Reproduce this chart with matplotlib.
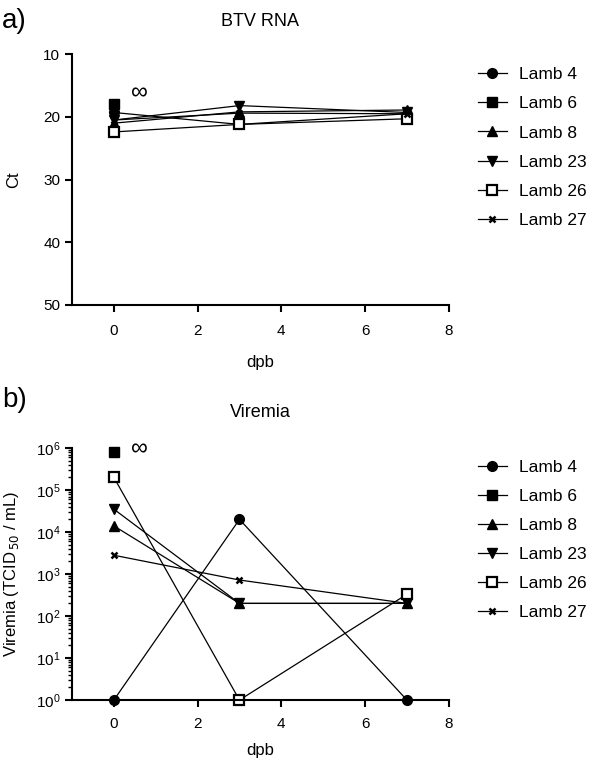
import matplotlib
matplotlib.use("Agg")
import matplotlib.pyplot as plt
import numpy as np

plt.rcParams['font.family'] = ['Liberation Sans', 'DejaVu Sans']

days = [0, 3, 7]
lambs = ["Lamb 4", "Lamb 6", "Lamb 8", "Lamb 23", "Lamb 26", "Lamb 27"]

# Panel a: BTV RNA Ct values
ct_lamb4 = [19.3, 21.2, 19.5]
ct_lamb6 = [18.0]
ct_lamb8 = [21.0, 19.2, 18.9]
ct_lamb23 = [20.5, 18.2, 19.3]
ct_lamb26 = [22.4, 21.2, 20.3]
ct_lamb27 = [20.5, 19.4, 19.5]

# Panel b: Viremia (TCID50/mL)
vir_lamb4 = [1, 2e4, 1]
vir_lamb6 = [8e5]
vir_lamb8 = [1.4e4, 200, 200]
vir_lamb23 = [3.5e4, 200, 200]
vir_lamb26 = [2e5, 1, 330]
vir_lamb27 = [2.8e3, 720, 200]

styles = {
    "Lamb 4": dict(marker='o', ms=7, mfc='black', mec='black'),
    "Lamb 6": dict(marker='s', ms=6.5, mfc='black', mec='black'),
    "Lamb 8": dict(marker='^', ms=7, mfc='black', mec='black'),
    "Lamb 23": dict(marker='v', ms=7, mfc='black', mec='black'),
    "Lamb 26": dict(marker='s', ms=6.5, mfc='white', mec='black', mew=1.6),
    "Lamb 27": dict(marker='x', ms=4.5, mfc='black', mec='black', mew=1.8),
}

ct_data = dict(zip(lambs, [ct_lamb4, ct_lamb6, ct_lamb8, ct_lamb23, ct_lamb26, ct_lamb27]))
vir_data = dict(zip(lambs, [vir_lamb4, vir_lamb6, vir_lamb8, vir_lamb23, vir_lamb26, vir_lamb27]))

fig = plt.figure(figsize=(6, 7.6), dpi=100)
ax1 = fig.add_axes([0.12, 0.5987, 0.628, 0.330])
ax2 = fig.add_axes([0.12, 0.0789, 0.628, 0.3316])

for ax, data in ((ax1, ct_data), (ax2, vir_data)):
    for name in lambs:
        vals = data[name]
        ax.plot(days[:len(vals)], vals, color='black', lw=0.9, clip_on=False,
                label=name, **styles[name])
    for s in ('top', 'right'):
        ax.spines[s].set_visible(False)
    ax.spines['left'].set_linewidth(1.5)
    ax.spines['bottom'].set_linewidth(1.5)
    ax.set_xlim(-1, 8)
    ax.set_xticks([0, 2, 4, 6, 8])
    ax.tick_params(axis='both', direction='out', width=1.5, length=5, labelsize=11)

ax1.tick_params(axis='x', pad=9)
ax2.tick_params(axis='x', pad=7)
ax1.set_xlabel('dpb', fontsize=12, labelpad=12)
ax2.set_xlabel('dpb', fontsize=12, labelpad=9)

# Panel a
ax1.set_ylim(50, 10)
ax1.set_yticks([10, 20, 30, 40, 50])
ax1.set_ylabel('Ct', fontsize=12)
ax1.yaxis.set_label_coords(-0.135, 0.5)
ax1.set_title('BTV RNA', fontsize=13, pad=20)
ax1.text(0.6, 16.2, '∞', fontsize=17, ha='center', va='center')

# Panel b
ax2.set_yscale('log')
ax2.set_ylim(1, 1e6)
ax2.set_yticks([1, 10, 100, 1e3, 1e4, 1e5, 1e6])
ax2.yaxis.set_minor_locator(matplotlib.ticker.LogLocator(base=10, subs=np.arange(2, 10)))
ax2.yaxis.set_minor_formatter(matplotlib.ticker.NullFormatter())
ax2.tick_params(axis='y', which='minor', direction='out', width=1.0, length=3)
ax2.set_ylabel('Viremia (TCID$_{\\,50}$ / mL)', fontsize=12)
ax2.yaxis.set_label_coords(-0.135, 0.5)
ax2.set_title('Viremia', fontsize=13, pad=22)
ax2.text(0.6, 9e5, '∞', fontsize=17, ha='center', va='center')

for ax, y in ((ax1, 0.932), (ax2, 0.416)):
    handles, labels = ax.get_legend_handles_labels()
    fig.legend(handles, labels, loc='upper left', bbox_to_anchor=(0.77, y),
               frameon=False, fontsize=12.5, handlelength=1.7, handletextpad=0.7,
               labelspacing=0.8, numpoints=1)

fig.text(0.003, 0.972, 'a)', fontsize=20, va='center', ha='left')
fig.text(0.003, 0.474, 'b)', fontsize=20, va='center', ha='left')

fig.savefig('out.png', dpi=100)
